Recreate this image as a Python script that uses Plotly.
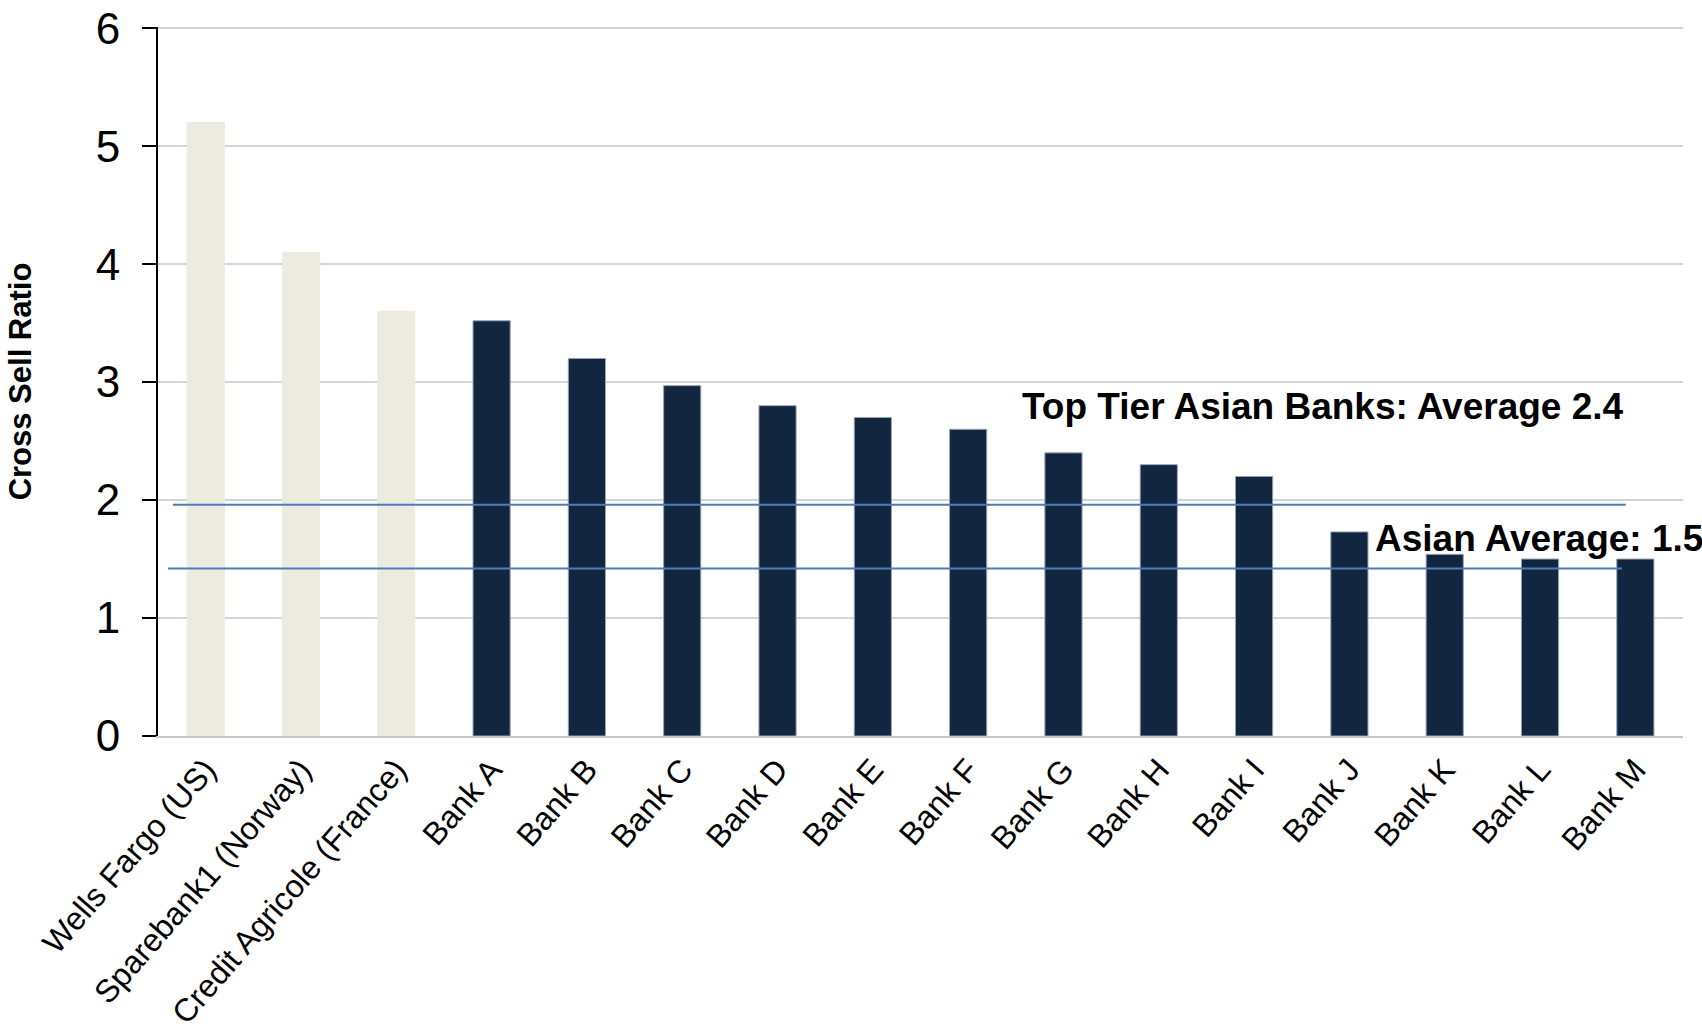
import plotly.graph_objects as go

categories = ["Wells Fargo (US)", "Sparebank1 (Norway)", "Credit Agricole (France)",
              "Bank A", "Bank B", "Bank C", "Bank D", "Bank E", "Bank F", "Bank G",
              "Bank H", "Bank I", "Bank J", "Bank K", "Bank L", "Bank M"]
values = [5.2, 4.1, 3.6, 3.52, 3.2, 2.97, 2.8, 2.7, 2.6, 2.4, 2.3, 2.2, 1.73, 1.54, 1.5, 1.5]
groups = ["benchmark"] * 3 + ["asian"] * 13

ref_levels = [1.96, 1.42]
ref_labels = ["Top Tier Asian Banks: Average 2.4", "Asian Average: 1.5"]
y_ticks = [0, 1, 2, 3, 4, 5, 6]

FONT = "Arial, Liberation Sans, sans-serif"
color_map = {"benchmark": "#edebe0", "asian": "#132640"}
line_map = {"benchmark": "#edebe0", "asian": "#9aa3b2"}

fig = go.Figure()
fig.add_trace(go.Bar(
    x=categories, y=values,
    marker=dict(color=[color_map[g] for g in groups],
                line=dict(color=[line_map[g] for g in groups], width=1)),
    width=0.39,
    showlegend=False,
    hoverinfo="x+y",
))

# reference lines
line_extents = [(-0.343, 14.90), (-0.395, 14.86)]
for lvl, (x0, x1) in zip(ref_levels, line_extents):
    fig.add_shape(type="line", xref="x", yref="y", x0=x0, x1=x1, y0=lvl, y1=lvl,
                  line=dict(color="#4a7ebb", width=2))

# labels
label_pos = [(0.565, 2.79), (0.797, 1.67)]
for txt, (px, py) in zip(ref_labels, label_pos):
    fig.add_annotation(text=txt, xref="paper", yref="y", x=px, y=py,
                       xanchor="left", yanchor="middle", showarrow=False,
                       font=dict(family=FONT, size=37, color="#000000", weight="bold"))

fig.update_layout(
    width=1702, height=1033,
    margin=dict(l=158, r=19, t=27, b=297, autoexpand=False),
    paper_bgcolor="white", plot_bgcolor="white",
    font=dict(family=FONT, color="#000000"),
    bargap=0.61,
)
fig.update_xaxes(
    type="category", range=[-0.5, 15.5],
    tickangle=-49, tickfont=dict(family=FONT, size=32, color="#000000"),
    showline=True, linecolor="#c8c8c8", linewidth=2,
    ticks="", showgrid=False, zeroline=False,
)
fig.update_yaxes(
    range=[0, 6.01], tickvals=y_ticks,
    tickfont=dict(family=FONT, size=44, color="#000000"),
    ticklabeloverflow="allow",
    showline=True, linecolor="#000000", linewidth=2,
    ticks="outside", ticklen=14, tickcolor="#000000", tickwidth=2,
    ticklabelstandoff=13,
    showgrid=True, gridcolor="#d4d4d4", gridwidth=2, zeroline=False,
    title=dict(text="<b>Cross Sell Ratio</b>", font=dict(family=FONT, size=31, color="#000000"),
               standoff=55),
)

fig.write_html("out.html")
